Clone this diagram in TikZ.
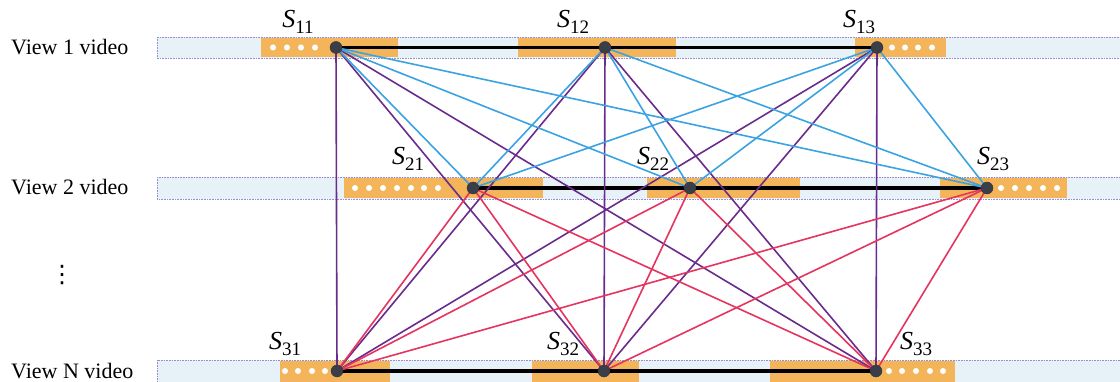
\documentclass[tikz,border=0pt]{standalone}
\usepackage{fontspec}
\setmainfont{Liberation Serif}
\newfontfamily\dejavu{DejaVu Sans}
\pgfdeclarelayer{bars}
\pgfdeclarelayer{edges}
\pgfsetlayers{bars,edges,main}
\definecolor{barblue}{HTML}{E6F1F8}
\definecolor{barline}{HTML}{9A8CC8}
\definecolor{segorange}{HTML}{F4B55A}
\definecolor{eblue}{HTML}{3BA3E2}
\definecolor{epurple}{HTML}{6A2C8C}
\definecolor{ered}{HTML}{E5345F}
\definecolor{nodegray}{HTML}{3A3E48}
\newcommand\slab[1]{\textit{S}\raisebox{-0.55ex}{\fontsize{19}{19}\selectfont #1}}
\tikzset{
  videobar/.style={fill=barblue, draw=barline, line width=0.6pt, densely dotted},
  seg/.style={fill=segorange, draw=none},
  wdot/.style={circle, fill=white, inner sep=0pt, minimum size=6pt},
  keyframe/.style={circle, fill=nodegray, draw=nodegray!80!black, inner sep=0pt, minimum size=12pt},
  chain/.style={line width=3.6pt, black},
  bluee/.style={eblue, line width=1.6pt},
  purplee/.style={epurple, line width=1.6pt},
  rede/.style={ered, line width=1.6pt},
  viewlabel/.style={anchor=west, font=\fontsize{22}{24}\selectfont, inner sep=0pt},
  slabel/.style={font=\fontsize{26}{28}\selectfont, inner sep=0pt}
}
\begin{document}
\begin{tikzpicture}[x=1pt,y=-1pt]
\useasboundingbox (0,0) rectangle (1120,382);
\begin{pgfonlayer}{bars}
\fill[white] (0,0) rectangle (1120,382);
% row 1
\draw[videobar] (157,37) rectangle (1121,58);
\fill[seg] (261,38) rectangle (398,57);
\fill[seg] (518,38) rectangle (676,57);
\fill[seg] (855,38) rectangle (946,57);
% row 2
\draw[videobar] (157,177) rectangle (1121,199);
\fill[seg] (344,178) rectangle (543,198);
\fill[seg] (647,178) rectangle (800,198);
\fill[seg] (940,178) rectangle (1067,198);
% row 3
\draw[videobar] (157,360) rectangle (1121,383);
\fill[seg] (280,361) rectangle (390,382);
\fill[seg] (532,361) rectangle (639,382);
\fill[seg] (770,361) rectangle (955,382);
% white dots
\foreach \x in {273,287,301,315} \node[wdot] at (\x,47.5) {};
\foreach \x in {892,905,918,932} \node[wdot] at (\x,47.5) {};
\foreach \x in {355,369,383,397,411,424,438} \node[wdot] at (\x,188) {};
\foreach \x in {1001,1015,1029,1043,1057} \node[wdot] at (\x,188) {};
\foreach \x in {285,298,312,325} \node[wdot] at (\x,371) {};
\foreach \x in {889,902,916,930,943} \node[wdot] at (\x,371) {};
\end{pgfonlayer}

% key frames
\node[keyframe] (s11) at (336,47.5) {};
\node[keyframe] (s12) at (605,47.5) {};
\node[keyframe] (s13) at (877,47.5) {};
\node[keyframe] (s21) at (473,188) {};
\node[keyframe] (s22) at (690,188) {};
\node[keyframe] (s23) at (987,188) {};
\node[keyframe] (s31) at (337,371) {};
\node[keyframe] (s32) at (604,371) {};
\node[keyframe] (s33) at (876,371) {};

\begin{pgfonlayer}{edges}
\draw[chain] (s11.center) -- (s12.center) -- (s13.center);
\draw[chain] (s21.center) -- (s22.center) -- (s23.center);
\draw[chain] (s31.center) -- (s32.center) -- (s33.center);
\foreach \a in {1,2,3}{
  \foreach \b in {1,2,3}{
    \draw[purplee] (s1\a.center) -- (s3\b.center);
  }
}
\foreach \a in {1,2,3}{
  \foreach \b in {1,2,3}{
    \draw[rede] (s2\a.center) -- (s3\b.center);
  }
}
\foreach \a in {1,2,3}{
  \foreach \b in {1,2,3}{
    \draw[bluee] (s1\a.center) -- (s2\b.center);
  }
}
\end{pgfonlayer}

% labels
\node[viewlabel] (v1) at (11,47) {View 1 video};
\node[viewlabel] (v2) at (11,187) {View 2 video};
\node[font=\dejavu\fontsize{24}{26}\selectfont, inner sep=0pt] (vd) at (62,275) {⋮};
\node[viewlabel] (vn) at (11,371) {View N video};

\node[slabel] (l11) at (298,22) {\slab{11}};
\node[slabel] (l12) at (573,22) {\slab{12}};
\node[slabel] (l13) at (859,22) {\slab{13}};
\node[slabel] (l21) at (408,159) {\slab{21}};
\node[slabel] (l22) at (653,159) {\slab{22}};
\node[slabel] (l23) at (993,159) {\slab{23}};
\node[slabel] (l31) at (285,344) {\slab{31}};
\node[slabel] (l32) at (563,344) {\slab{32}};
\node[slabel] (l33) at (916,344) {\slab{33}};
\end{tikzpicture}
\end{document}
